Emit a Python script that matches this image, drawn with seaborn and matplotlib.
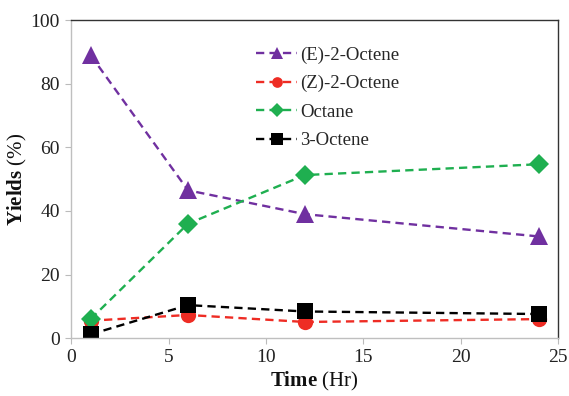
import pandas as pd
import matplotlib.pyplot as plt
import seaborn as sns

# data
time_hr = [1, 6, 12, 24]
e_2_octene = [89, 46.5, 39, 32]
z_2_octene = [5.5, 7.3, 5.1, 6.0]
octane = [6, 36, 51.3, 54.7]
octene_3 = [1.2, 10.4, 8.4, 7.6]

series_names = ['(E)-2-Octene', '(Z)-2-Octene', 'Octane', '3-Octene']
series_values = [e_2_octene, z_2_octene, octane, octene_3]
colors = ['#7030A0', '#EE2C24', '#1FAF50', '#000000']
markers = ['^', 'o', 'D', 's']
msizes = [12.5, 11, 10, 11.5]

sns.set_theme(style='white')
plt.rcParams['font.family'] = ['Liberation Serif', 'DejaVu Serif']
plt.rcParams['mathtext.fontset'] = 'custom'
plt.rcParams['mathtext.rm'] = 'Liberation Serif'
plt.rcParams['mathtext.bf'] = 'Liberation Serif:bold'

rows = []
for name, vals in zip(series_names, series_values):
    for t, v in zip(time_hr, vals):
        rows.append({'Time': t, 'Yield': v, 'Series': name})
df = pd.DataFrame(rows)

fig = plt.figure(figsize=(5.69, 3.96), dpi=100)
ax = fig.add_axes([0.125, 0.146, 0.856, 0.803])

for name, col, mk, ms in zip(series_names, colors, markers, msizes):
    sns.lineplot(data=df[df['Series'] == name], x='Time', y='Yield', ax=ax,
                 color=col, marker=mk, markersize=ms, markeredgewidth=0,
                 linestyle=(0, (3.5, 2.2)), linewidth=1.7, label=name)

ax.set_xlim(0, 25)
ax.set_ylim(0, 100)
ax.set_xticks([0, 5, 10, 15, 20, 25])
ax.set_yticks([0, 20, 40, 60, 80, 100])
ax.tick_params(axis='both', labelsize=14, colors='#222222', length=4,
               direction='out', width=0.8, pad=4)
ax.tick_params(axis='both', color='#BBBBBB')
ax.tick_params(left=True, bottom=True)

for side in ['left', 'bottom']:
    ax.spines[side].set_color('#BFBFBF')
    ax.spines[side].set_linewidth(1.0)
for side in ['top', 'right']:
    ax.spines[side].set_color('#333333')
    ax.spines[side].set_linewidth(1.0)

ax.set_xlabel(r'$\mathbf{Time}$ (Hr)', fontsize=15, color='#111111', labelpad=3)
ax.set_ylabel(r'$\mathbf{Yields}$ (%)', fontsize=15, color='#111111', labelpad=1)

leg = ax.legend(loc='upper left', bbox_to_anchor=(0.345, 0.97), frameon=False,
                fontsize=13.5, handlelength=2.2, handletextpad=0.15,
                labelspacing=0.6, markerscale=0.7)

fig.savefig('out.png', dpi=100)
